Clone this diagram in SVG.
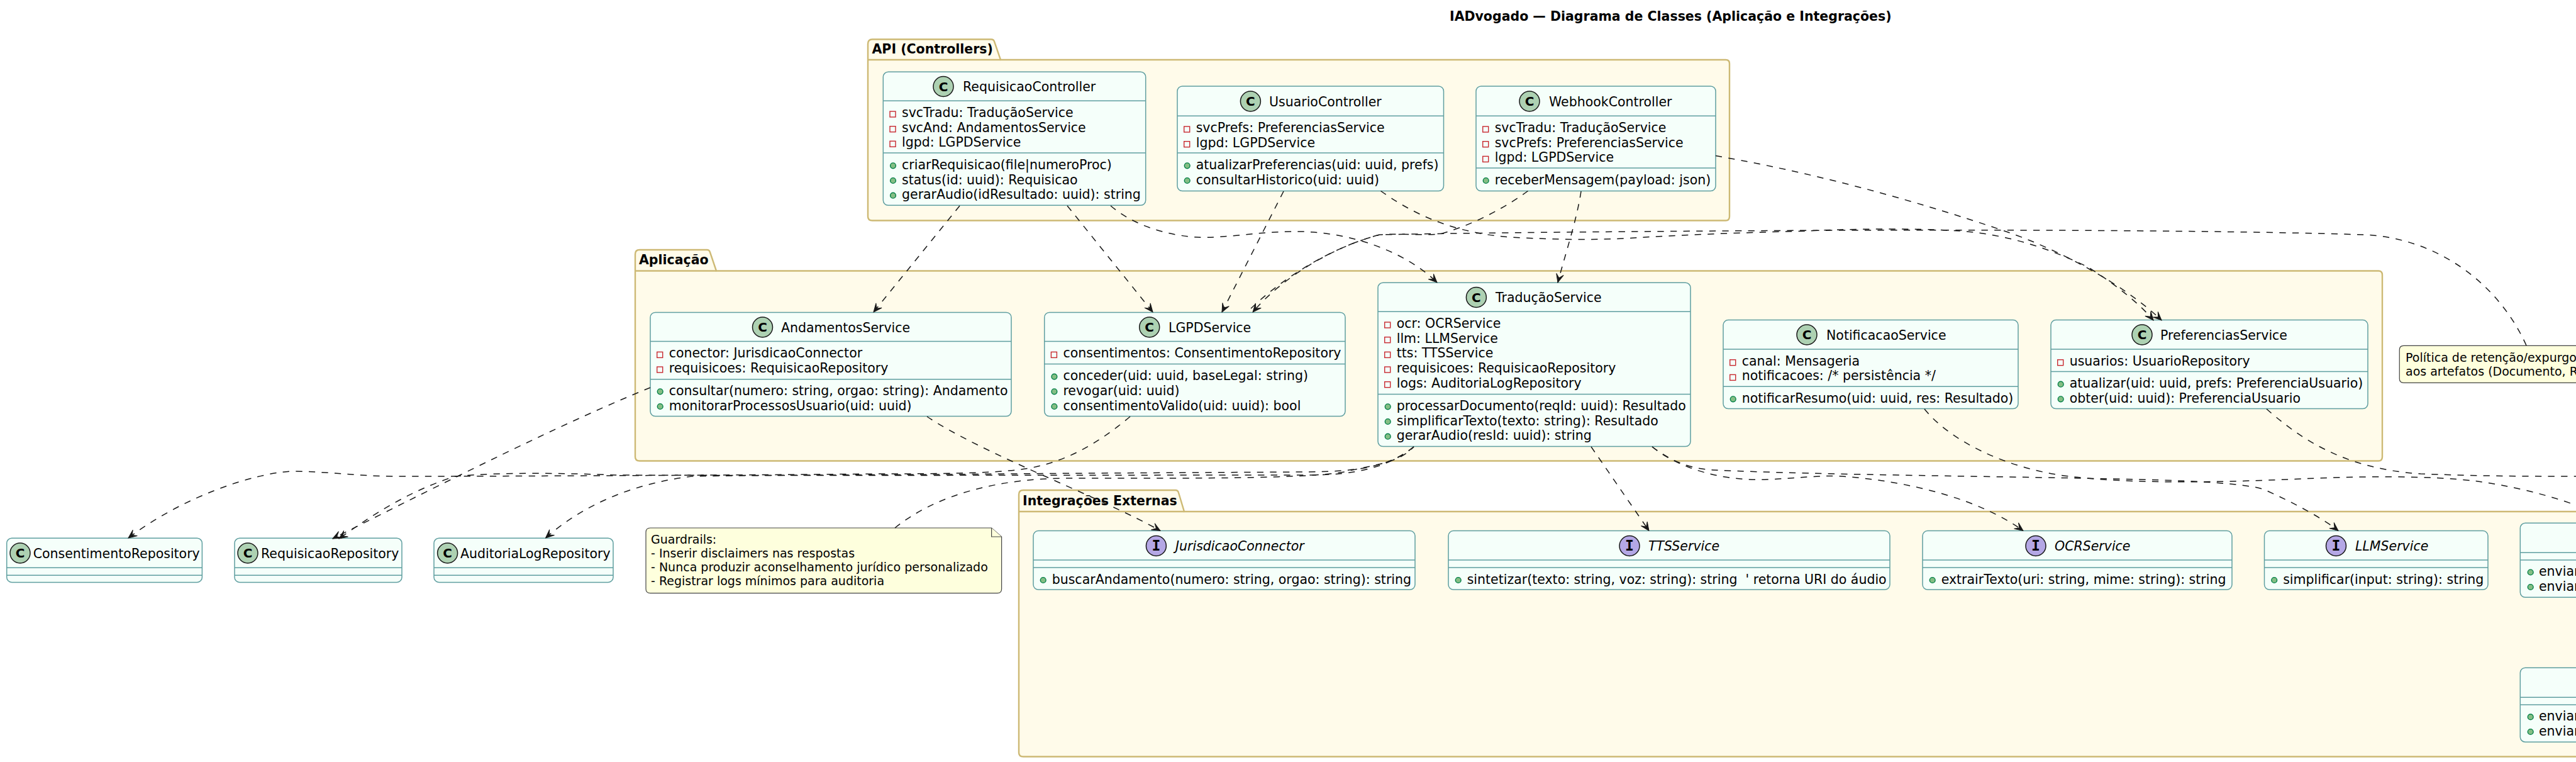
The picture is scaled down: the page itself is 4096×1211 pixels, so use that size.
<svg xmlns="http://www.w3.org/2000/svg" width="4096" height="1211" viewBox="0 0 4096 1211">
<style>
text{font-family:"DejaVu Sans",sans-serif;font-size:20.5px;fill:#000;white-space:pre}
.b{font-weight:bold}
.i{font-style:italic}
.n{font-size:19px}
.pkg{fill:#FFFBEA;stroke:#CDB974;stroke-width:2.4}
.box{fill:#F5FFFA;stroke:#5F9EA0;stroke-width:1.5}
.ln{stroke:#5F9EA0;stroke-width:1.5;fill:none}
.note{fill:#FEFFDD;stroke:#444;stroke-width:1.2}
.ic{stroke:#181818;stroke-width:1.5;fill:#ADD1B2}
.if{stroke:#181818;stroke-width:1.5;fill:#B4A7E5}
.g{font-weight:bold;font-size:20px;text-anchor:middle}
.gi{font-family:"DejaVu Sans Mono",monospace;font-weight:bold;font-size:23px;text-anchor:middle}
.pv{fill:none;stroke:#C82930;stroke-width:1.4}
.pb{fill:#84BE84;stroke:#038048;stroke-width:1.4}
.e{fill:none;stroke:#181818;stroke-width:1.5;stroke-dasharray:10.3 10.3}
.a{marker-end:url(#arr)}
</style>
<defs>
<marker id="arr" markerUnits="userSpaceOnUse" markerWidth="16" markerHeight="14" viewBox="-15 -7 16 14" refX="0" refY="0" orient="auto">
<path d="M0,0 L-13.5,-5.9 L-7.5,0 L-13.5,5.9 Z" fill="#181818" stroke="#181818" stroke-width="1"/>
</marker>
</defs>
<rect width="4096" height="1211" fill="#FFFFFF"/>
<text id="title" class="b" x="2305" y="32.5">IADvogado — Diagrama de Classes (Aplicação e Integrações)</text>

<g id="pkg-api">
<path class="pkg" d="M1380,70 Q1380,62.5 1387,62.5 H1576 Q1580,62.5 1581,66 L1591,95 H2744 Q2750,95 2750,101 V344 Q2750,350.5 2744,350.5 H1387 Q1380,350.5 1380,344 Z"/>
<path class="pkg" d="M1380,95 H1591"/>
<text class="b" x="1386.5" y="85">API (Controllers)</text>
</g>
<g id="pkg-aplicacao">
<path class="pkg" d="M1010,404 Q1010,397 1017,397 H1124 Q1128,397 1129,401 L1139,430.5 H3782 Q3788,430.5 3788,437 V726 Q3788,732.5 3782,732.5 H1017 Q1010,732.5 1010,726 Z"/>
<path class="pkg" d="M1010,430.5 H1139"/>
<text class="b" x="1016" y="420">Aplicação</text>
</g>
<g id="pkg-integracoes">
<path class="pkg" d="M1620,786 Q1620,779 1627,779 H1869 Q1873,779 1874,783 L1883,813 H4200 V1202.5 H1627 Q1620,1202.5 1620,1196 Z"/>
<path class="pkg" d="M1620,813 H1883"/>
<text class="b" x="1626" y="802.5">Integrações Externas</text>
</g>

<g id="RequisicaoController">
<rect class="box" x="1404.3" y="114.3" width="417.4" height="212" rx="8"/>
<path class="ln" d="M1404.3,160.3 H1821.7 M1404.3,243 H1821.7"/>
<circle class="ic" cx="1500" cy="137.5" r="16"/><text class="g" x="1500" y="144.5">C</text>
<text x="1531" y="145">RequisicaoController</text>
<rect class="pv" x="1415" y="177" width="9" height="9"/><text x="1434" y="186">svcTradu: TraduçãoService</text>
<rect class="pv" x="1415" y="200.7" width="9" height="9"/><text x="1434" y="209.7">svcAnd: AndamentosService</text>
<rect class="pv" x="1415" y="224.3" width="9" height="9"/><text x="1434" y="233.3">lgpd: LGPDService</text>
<circle class="pb" cx="1420" cy="263.3" r="4.4"/><text x="1434" y="269">criarRequisicao(file|numeroProc)</text>
<circle class="pb" cx="1420" cy="287" r="4.4"/><text x="1434" y="292.7">status(id: uuid): Requisicao</text>
<circle class="pb" cx="1420" cy="310.7" r="4.4"/><text x="1434" y="316.4">gerarAudio(idResultado: uuid): string</text>
</g>

<g id="UsuarioController">
<rect class="box" x="1872" y="137" width="423.5" height="166.5" rx="8"/>
<path class="ln" d="M1872,184.3 H2295.5 M1872,243 H2295.5"/>
<circle class="ic" cx="1988.4" cy="161" r="16"/><text class="g" x="1988.4" y="168">C</text>
<text x="2018" y="168.5">UsuarioController</text>
<rect class="pv" x="1882.7" y="201" width="9" height="9"/><text x="1901.7" y="210">svcPrefs: PreferenciasService</text>
<rect class="pv" x="1882.7" y="224.7" width="9" height="9"/><text x="1901.7" y="233.7">lgpd: LGPDService</text>
<circle class="pb" cx="1887.7" cy="263.3" r="4.4"/><text x="1901.7" y="269">atualizarPreferencias(uid: uuid, prefs)</text>
<circle class="pb" cx="1887.7" cy="287" r="4.4"/><text x="1901.7" y="292.7">consultarHistorico(uid: uuid)</text>
</g>

<g id="WebhookController">
<rect class="box" x="2347" y="137" width="381" height="166.5" rx="8"/>
<path class="ln" d="M2347,184.3 H2728 M2347,267 H2728"/>
<circle class="ic" cx="2432" cy="161" r="16"/><text class="g" x="2432" y="168">C</text>
<text x="2463" y="168.5">WebhookController</text>
<rect class="pv" x="2357.7" y="201" width="9" height="9"/><text x="2376.7" y="210">svcTradu: TraduçãoService</text>
<rect class="pv" x="2357.7" y="224.7" width="9" height="9"/><text x="2376.7" y="233.7">svcPrefs: PreferenciasService</text>
<rect class="pv" x="2357.7" y="248.4" width="9" height="9"/><text x="2376.7" y="257.4">lgpd: LGPDService</text>
<circle class="pb" cx="2362.7" cy="287" r="4.4"/><text x="2376.7" y="292.7">receberMensagem(payload: json)</text>
</g>

<g id="AndamentosService">
<rect class="box" x="1034" y="496.4" width="574" height="165.2" rx="8"/>
<path class="ln" d="M1034,542.6 H1608 M1034,602.7 H1608"/>
<circle class="ic" cx="1212.5" cy="520" r="16"/><text class="g" x="1212.5" y="527">C</text>
<text x="1242" y="527.5">AndamentosService</text>
<rect class="pv" x="1044.7" y="559.4" width="9" height="9"/><text x="1063.7" y="568.4">conector: JurisdicaoConnector</text>
<rect class="pv" x="1044.7" y="583" width="9" height="9"/><text x="1063.7" y="592">requisicoes: RequisicaoRepository</text>
<circle class="pb" cx="1049.7" cy="622.3" r="4.4"/><text x="1063.7" y="628">consultar(numero: string, orgao: string): Andamento</text>
<circle class="pb" cx="1049.7" cy="646" r="4.4"/><text x="1063.7" y="651.7">monitorarProcessosUsuario(uid: uuid)</text>
</g>

<g id="LGPDService">
<rect class="box" x="1660.7" y="496.4" width="478.3" height="165.2" rx="8"/>
<path class="ln" d="M1660.7,542.6 H2139 M1660.7,578.6 H2139"/>
<circle class="ic" cx="1827.7" cy="520" r="16"/><text class="g" x="1827.7" y="527">C</text>
<text x="1858" y="527.5">LGPDService</text>
<rect class="pv" x="1671.4" y="559.4" width="9" height="9"/><text x="1690.4" y="568.4">consentimentos: ConsentimentoRepository</text>
<circle class="pb" cx="1676.4" cy="598.6" r="4.4"/><text x="1690.4" y="604.3">conceder(uid: uuid, baseLegal: string)</text>
<circle class="pb" cx="1676.4" cy="622.3" r="4.4"/><text x="1690.4" y="628">revogar(uid: uuid)</text>
<circle class="pb" cx="1676.4" cy="646" r="4.4"/><text x="1690.4" y="651.7">consentimentoValido(uid: uuid): bool</text>
</g>

<g id="TraducaoService">
<rect class="box" x="2191" y="449.3" width="497" height="260.2" rx="8"/>
<path class="ln" d="M2191,495.3 H2688 M2191,626.5 H2688"/>
<circle class="ic" cx="2347.4" cy="472.5" r="16"/><text class="g" x="2347.4" y="479.5">C</text>
<text x="2378" y="480">TraduçãoService</text>
<rect class="pv" x="2201.7" y="512" width="9" height="9"/><text x="2220.7" y="521">ocr: OCRService</text>
<rect class="pv" x="2201.7" y="535.7" width="9" height="9"/><text x="2220.7" y="544.7">llm: LLMService</text>
<rect class="pv" x="2201.7" y="559.4" width="9" height="9"/><text x="2220.7" y="568.4">tts: TTSService</text>
<rect class="pv" x="2201.7" y="583" width="9" height="9"/><text x="2220.7" y="592">requisicoes: RequisicaoRepository</text>
<rect class="pv" x="2201.7" y="606.7" width="9" height="9"/><text x="2220.7" y="615.7">logs: AuditoriaLogRepository</text>
<circle class="pb" cx="2206.7" cy="646.3" r="4.4"/><text x="2220.7" y="652">processarDocumento(reqId: uuid): Resultado</text>
<circle class="pb" cx="2206.7" cy="670" r="4.4"/><text x="2220.7" y="675.7">simplificarTexto(texto: string): Resultado</text>
<circle class="pb" cx="2206.7" cy="693.7" r="4.4"/><text x="2220.7" y="699.4">gerarAudio(resId: uuid): string</text>
</g>

<g id="NotificacaoService">
<rect class="box" x="2740" y="508.6" width="469" height="140.9" rx="8"/>
<path class="ln" d="M2740,555 H3209 M2740,614.3 H3209"/>
<circle class="ic" cx="2873" cy="532" r="16"/><text class="g" x="2873" y="539">C</text>
<text x="2904" y="539.5">NotificacaoService</text>
<rect class="pv" x="2750.7" y="571.7" width="9" height="9"/><text x="2769.7" y="580.7">canal: Mensageria</text>
<rect class="pv" x="2750.7" y="595.4" width="9" height="9"/><text x="2769.7" y="604.4">notificacoes: /* persistência */</text>
<circle class="pb" cx="2755.7" cy="634.3" r="4.4"/><text x="2769.7" y="640">notificarResumo(uid: uuid, res: Resultado)</text>
</g>

<g id="PreferenciasService">
<rect class="box" x="3261" y="508.6" width="504" height="140.9" rx="8"/>
<path class="ln" d="M3261,555 H3765 M3261,590.5 H3765"/>
<circle class="ic" cx="3406" cy="532" r="16"/><text class="g" x="3406" y="539">C</text>
<text x="3435" y="539.5">PreferenciasService</text>
<rect class="pv" x="3271.7" y="571.7" width="9" height="9"/><text x="3290.7" y="580.7">usuarios: UsuarioRepository</text>
<circle class="pb" cx="3276.7" cy="610.7" r="4.4"/><text x="3290.7" y="616.4">atualizar(uid: uuid, prefs: PreferenciaUsuario)</text>
<circle class="pb" cx="3276.7" cy="634.3" r="4.4"/><text x="3290.7" y="640">obter(uid: uuid): PreferenciaUsuario</text>
</g>

<g id="ConsentimentoRepository">
<rect class="box" x="10.7" y="855.3" width="310.7" height="70.1" rx="8"/>
<path class="ln" d="M10.7,902.3 H321.4 M10.7,914.3 H321.4"/>
<circle class="ic" cx="32" cy="879" r="16"/><text class="g" x="32" y="886">C</text>
<text x="52.7" y="886.5">ConsentimentoRepository</text>
</g>
<g id="RequisicaoRepository">
<rect class="box" x="373" y="855.3" width="266" height="70.1" rx="8"/>
<path class="ln" d="M373,902.3 H639 M373,914.3 H639"/>
<circle class="ic" cx="394" cy="879" r="16"/><text class="g" x="394" y="886">C</text>
<text x="415" y="886.5">RequisicaoRepository</text>
</g>
<g id="AuditoriaLogRepository">
<rect class="box" x="690" y="855.3" width="285" height="70.1" rx="8"/>
<path class="ln" d="M690,902.3 H975 M690,914.3 H975"/>
<circle class="ic" cx="711.6" cy="879" r="16"/><text class="g" x="711.6" y="886">C</text>
<text x="732" y="886.5">AuditoriaLogRepository</text>
</g>

<g id="note-guardrails">
<path class="note" d="M1034,839 H1576.6 L1592.6,853 V936 Q1592.6,942.6 1586,942.6 H1034 Q1027,942.6 1027,936 V846 Q1027,839 1034,839 Z"/>
<path class="note" d="M1576.6,839 V853 H1592.6"/>
<text class="n" x="1035" y="864">Guardrails:</text>
<text class="n" x="1035" y="886">- Inserir disclaimers nas respostas</text>
<text class="n" x="1035" y="908">- Nunca produzir aconselhamento jurídico personalizado</text>
<text class="n" x="1035" y="930">- Registrar logs mínimos para auditoria</text>
</g>

<g id="note-retencao">
<path class="note" d="M3822,549.3 H4200 V608.3 H3822 Q3815.3,608.3 3815.3,602 V556 Q3815.3,549.3 3822,549.3 Z"/>
<text class="n" x="3825" y="575">Política de retenção/expurgo</text>
<text class="n" x="3825" y="597">aos artefatos (Documento, R</text>
</g>

<g id="JurisdicaoConnector">
<rect class="box" x="1643" y="843.6" width="607" height="93.4" rx="8"/>
<path class="ln" d="M1643,890 H2250 M1643,902 H2250"/>
<circle class="if" cx="1838.4" cy="867.5" r="16"/><text class="gi" x="1838.4" y="875">I</text>
<text class="i" x="1869" y="875">JurisdicaoConnector</text>
<circle class="pb" cx="1658.7" cy="922" r="4.4"/><text x="1672.7" y="927.7">buscarAndamento(numero: string, orgao: string): string</text>
</g>
<g id="TTSService">
<rect class="box" x="2303" y="843.6" width="702" height="93.4" rx="8"/>
<path class="ln" d="M2303,890 H3005 M2303,902 H3005"/>
<circle class="if" cx="2591" cy="867.5" r="16"/><text class="gi" x="2591" y="875">I</text>
<text class="i" x="2621" y="875">TTSService</text>
<circle class="pb" cx="2318.7" cy="922" r="4.4"/><text x="2332.7" y="927.7">sintetizar(texto: string, voz: string): string  ' retorna URI do áudio</text>
</g>
<g id="OCRService">
<rect class="box" x="3057" y="843.6" width="492" height="93.4" rx="8"/>
<path class="ln" d="M3057,890 H3549 M3057,902 H3549"/>
<circle class="if" cx="3237" cy="867.5" r="16"/><text class="gi" x="3237" y="875">I</text>
<text class="i" x="3267" y="875">OCRService</text>
<circle class="pb" cx="3072.7" cy="922" r="4.4"/><text x="3086.7" y="927.7">extrairTexto(uri: string, mime: string): string</text>
</g>
<g id="LLMService">
<rect class="box" x="3600.5" y="843.6" width="355.5" height="93.4" rx="8"/>
<path class="ln" d="M3600.5,890 H3956 M3600.5,902 H3956"/>
<circle class="if" cx="3714.5" cy="867.5" r="16"/><text class="gi" x="3714.5" y="875">I</text>
<text class="i" x="3745" y="875">LLMService</text>
<circle class="pb" cx="3616.2" cy="922" r="4.4"/><text x="3630.2" y="927.7">simplificar(input: string): string</text>
</g>
<g id="Integracao1">
<rect class="box" x="4007.3" y="831.3" width="300" height="118" rx="8"/>
<path class="ln" d="M4007.3,878.3 H4307 M4007.3,890 H4307"/>
<circle class="pb" cx="4023.7" cy="909.5" r="4.4"/><text x="4037" y="915">enviar</text>
<circle class="pb" cx="4023.7" cy="933" r="4.4"/><text x="4037" y="938.7">enviar</text>
</g>
<g id="Integracao2">
<rect class="box" x="4007.3" y="1061.2" width="300" height="118" rx="8"/>
<path class="ln" d="M4007.3,1108.2 H4307 M4007.3,1120 H4307"/>
<circle class="pb" cx="4023.7" cy="1139.4" r="4.4"/><text x="4037" y="1145">enviar</text>
<circle class="pb" cx="4023.7" cy="1163" r="4.4"/><text x="4037" y="1168.7">enviar</text>
</g>

<g id="connectors">
<path class="e a" d="M1526,327 L1389,496"/>
<path class="e a" d="M1697,327 L1833,496"/>
<path class="e a" d="M1766,327 C1810,365 1880,380 1930,377 C1980,374 2020,367 2070,368 C2150,370 2235,400 2285,449"/>
<path class="e a" d="M2041,304 L1943,496"/>
<path class="e a" d="M2514,304 C2507,350 2490,400 2477,449"/>
<path class="e a" d="M2195.5,303.5 C2240,335 2310,375 2424,378 C2500,382 2560,381 2615,377 C2700,372 2800,369 2875,367 C2930,364 3040,362 3116,367 C3190,372 3260,395 3321,425 C3360,450 3400,480 3424,509"/>
<path class="e a" d="M2728,247.6 C2830,265 2990,300 3187,367 C3270,395 3375,450 3437,509"/>
<path class="e a" d="M2429.5,303.5 C2400,325 2350,355 2290,372 C2260,374 2220,371 2194,373 C2120,392 2040,440 1992,496"/>
<path class="e" d="M4017,549 C3975,455 3880,378 3758,373 C3400,362 2800,366 2488,369 C2380,370 2300,371 2194,373 C2120,392 2040,440 1983,496"/>
<path class="e a" d="M1034,616 C900,670 720,760 529,856"/>
<path class="e a" d="M1474,662 C1560,720 1750,790 1845,843.5"/>
<path class="e a" d="M1797,662 C1740,710 1680,743 1604,748 C1560,752 1500,753 1400,753 C1200,755 800,757 628,757 C570,757 520,749 462,749 C400,753 290,790 204,855"/>
<path class="e a" d="M2248,710 C2205,745 2150,749 2080,750 C1900,751 1700,752 1500,754 C1350,755 1200,755 1100,757 C1010,768 930,800 867.5,855"/>
<path class="e a" d="M2248,710 C2205,745 2150,755 2080,755 C1800,755 1200,756 979,755 C900,752 800,750 724,757 C650,780 590,820 539,856"/>
<path class="e" d="M1423,839 C1490,785 1590,760 1700,760 C1850,760 2100,762 2146,748 C2190,738 2225,735 2248,710"/>
<path class="e a" d="M2530,710 L2622,843.5"/>
<path class="e a" d="M2627,710 C2670,745 2740,765 2810,762 C2860,760 2890,755 2930,757 C3040,765 3150,795 3217,843.5"/>
<path class="e a" d="M2627,710 C2660,735 2690,745 2724,747 C2900,755 3200,757 3400,762 C3500,764 3580,770 3600,778 C3650,800 3695,825 3718,843.5"/>
<path class="e" d="M3060,650 C3100,700 3190,745 3290,757 C3380,768 3500,768 3660,761 C3750,757 3860,755 3940,765 C3990,772 4050,785 4110,808"/>
<path class="e" d="M3604,650 C3650,690 3720,745 3849,753 C3950,757 4030,757 4110,757"/>
</g>
</svg>
